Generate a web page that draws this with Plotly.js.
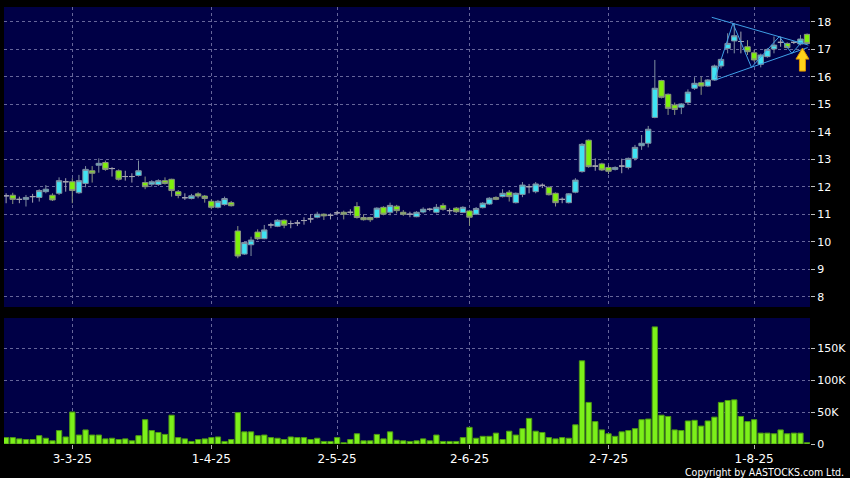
<!DOCTYPE html>
<html><head><meta charset="utf-8">
<script src="https://cdn.plot.ly/plotly-3.0.1.min.js"></script>
<style>html,body{margin:0;padding:0;background:#000;}#chart{width:850px;height:478px;}</style>
</head><body><div id="chart"></div>
<script>
// ---- tick labels (trading-day index -> date label)
const tickIdx  = [10, 31, 50, 70, 91, 113];
const tickText = ['3-3-25', '1-4-25', '2-5-25', '2-6-25', '2-7-25', '1-8-25'];

// ---- daily OHLC (one entry per trading day)
const openP = [11.68,11.70,11.55,11.55,11.65,11.62,11.83,11.70,11.77,12.19,
 12.19,11.79,12.13,12.59,12.79,12.89,12.67,12.59,12.38,12.38,
 12.42,12.16,12.10,12.09,12.23,12.28,11.83,11.61,11.58,11.75,
 11.67,11.48,11.26,11.36,11.43,10.40,9.56,9.90,10.36,10.12,
 10.62,10.57,10.79,10.67,10.69,10.78,10.84,10.90,11.01,10.97,
 11.06,11.08,11.08,11.29,10.89,10.89,10.89,11.26,11.08,11.30,
 11.08,11.01,10.92,11.09,11.19,11.08,11.33,11.14,11.23,11.07,
 11.13,11.01,11.25,11.38,11.62,11.65,11.81,11.43,11.73,12.01,
 11.83,12.06,11.99,11.77,11.55,11.43,11.81,12.56,13.70,12.76,
 12.84,12.71,12.64,12.76,12.71,13.04,13.50,13.59,14.53,15.87,
 15.37,14.98,14.90,15.07,15.59,15.79,15.67,15.89,16.40,17.04,
 17.31,17.29,17.10,16.88,16.46,16.74,17.02,17.26,17.22,17.26,
 17.20,17.55];
const highP = [11.77,11.79,11.65,11.71,11.75,11.92,12.07,11.77,12.35,12.32,
 12.32,12.44,12.76,12.76,13.04,12.96,12.72,12.64,12.59,12.50,
 12.96,12.38,12.25,12.28,12.35,12.30,11.89,11.77,11.75,11.81,
 11.71,11.55,11.53,11.65,11.49,10.58,10.01,10.19,10.46,10.62,
 10.70,10.83,10.82,10.78,10.80,10.90,11.01,11.10,11.04,11.04,
 11.14,11.14,11.19,11.45,11.01,10.92,11.26,11.30,11.43,11.35,
 11.16,11.10,11.12,11.26,11.24,11.38,11.41,11.22,11.27,11.30,
 11.17,11.27,11.45,11.63,11.66,11.92,11.89,11.80,12.18,12.11,
 12.18,12.13,12.02,11.80,11.62,11.78,12.32,13.60,13.73,13.04,
 12.88,12.80,12.75,13.03,13.07,13.53,13.89,14.22,16.62,15.90,
 15.40,15.07,15.05,15.55,15.99,16.01,15.92,16.45,16.67,17.59,
 17.95,17.65,17.34,16.98,16.85,17.05,17.47,17.47,17.26,17.30,
 17.53,17.58];
const lowP = [11.41,11.38,11.41,11.29,11.43,11.47,11.77,11.49,11.71,11.83,
 11.41,11.75,11.99,12.16,12.52,12.59,12.38,12.23,12.23,12.16,
 12.38,11.92,12.01,12.04,12.09,11.65,11.59,11.53,11.55,11.59,
 11.43,11.19,11.22,11.32,11.29,9.41,9.53,9.49,10.07,10.10,
 10.50,10.54,10.50,10.50,10.58,10.63,10.70,10.86,10.80,10.82,
 10.97,10.82,10.97,10.85,10.78,10.73,10.86,10.97,10.97,11.04,
 10.95,10.90,10.90,11.04,11.12,11.04,11.14,11.02,11.05,11.05,
 10.59,10.98,11.22,11.35,11.52,11.62,11.47,11.40,11.63,11.77,
 11.77,11.96,11.69,11.29,11.41,11.40,11.77,12.52,12.70,12.59,
 12.58,12.47,12.60,12.50,12.64,12.96,13.35,13.44,14.50,15.22,
 14.62,14.62,14.65,14.98,15.53,15.35,15.64,15.86,16.31,16.86,
 16.86,16.86,16.80,16.56,16.35,16.70,16.86,17.10,17.04,17.20,
 17.15,17.22];
const closeP = [11.68,11.55,11.55,11.62,11.65,11.87,11.92,11.53,12.23,12.19,
 11.87,12.23,12.64,12.50,12.86,12.64,12.67,12.28,12.38,12.38,
 12.59,12.01,12.19,12.23,12.13,11.87,11.69,11.61,11.68,11.67,
 11.58,11.26,11.48,11.58,11.32,9.49,9.98,10.07,10.12,10.44,
 10.62,10.79,10.61,10.67,10.69,10.78,10.84,11.01,10.95,10.97,
 11.06,11.01,11.08,10.89,10.81,10.81,11.23,11.01,11.33,11.14,
 11.01,11.01,11.08,11.19,11.19,11.26,11.19,11.14,11.10,11.26,
 10.90,11.22,11.41,11.59,11.55,11.77,11.65,11.77,12.07,12.01,
 12.11,12.06,11.72,11.43,11.55,11.75,12.25,13.55,12.74,12.76,
 12.62,12.57,12.71,12.76,13.04,13.44,13.59,14.10,15.59,15.26,
 14.86,14.82,15.02,15.45,15.77,15.67,15.89,16.40,16.64,17.22,
 17.50,17.29,16.92,16.62,16.80,17.00,17.16,17.26,17.07,17.26,
 17.38,17.22];

// ---- daily volume (thousand shares)
const volumeK = [10,10,8,7,7,13,9,5,21,11,
 50,14,22,14,14,8,9,7,8,5,
 13,38,21,18,15,45,10,8,4,7,
 8,10,11,4,7,49,19,19,13,14,
 10,9,7,11,10,10,7,9,4,4,
 10,2,7,16,5,5,15,8,19,6,
 5,4,5,8,5,14,4,4,4,10,
 26,9,12,12,17,7,20,14,24,40,
 20,18,10,8,10,9,30,130,65,35,
 22,16,12,19,21,24,38,39,183,45,
 43,22,21,36,37,28,36,42,65,68,
 69,43,35,38,17,17,16,22,16,17,
 17,2];

// ---- symmetric-triangle drawing (day index, price)
const triUpperX = [106.6, 121.2], triUpperY = [18.17, 17.16];
const triLowerX = [107.1, 121.1], triLowerY = [15.89, 17.07];
const zigX = [107.1, 109.8, 112.6, 116.8, 118.7, 120.2];
const zigY = [15.96, 17.95, 16.35, 17.47, 16.86, 17.27];

const dayIdx = openP.map((_, i) => i);
const volume = volumeK.map(v => v * 1000);

function pick(filter) {
  const ids = dayIdx.filter(filter);
  return {
    x: ids, open: ids.map(i => openP[i]), high: ids.map(i => highP[i]),
    low: ids.map(i => lowP[i]), close: ids.map(i => closeP[i])
  };
}
const up = pick(i => closeP[i] > openP[i]);
const dn = pick(i => closeP[i] < openP[i]);
const dj = pick(i => closeP[i] === openP[i]);

function candle(d, fill, line) {
  return Object.assign({
    type: 'candlestick', xaxis: 'x', yaxis: 'y', whiskerwidth: 0, hoverinfo: 'skip',
    increasing: {fillcolor: fill, line: {color: line, width: 1}},
    decreasing: {fillcolor: fill, line: {color: line, width: 1}}
  }, d);
}

const TRI = '#3f9fe6';
const traces = [
  candle(up, '#3fe3f3', '#7f8fa0'),
  candle(dn, '#7ef00a', '#8a9480'),
  candle(dj, '#9a9aa6', '#a4a4b0'),
  {type: 'scatter', mode: 'lines', x: triUpperX, y: triUpperY, line: {color: TRI, width: 1}, hoverinfo: 'skip'},
  {type: 'scatter', mode: 'lines', x: triLowerX, y: triLowerY, line: {color: TRI, width: 1}, hoverinfo: 'skip'},
  {type: 'scatter', mode: 'lines', x: zigX, y: zigY, line: {color: TRI, width: 1}, hoverinfo: 'skip'},
  {type: 'bar', x: dayIdx, y: volume, xaxis: 'x', yaxis: 'y2',
   marker: {color: '#7cf01a', line: {color: '#4e9a12', width: 1}}, hoverinfo: 'skip'}
];

const GRID = '#66669a';
const layout = {
  width: 850, height: 478,
  paper_bgcolor: '#000000', plot_bgcolor: '#000046',
  margin: {l: 4, r: 40, t: 7, b: 34},
  showlegend: false,
  boxgap: 0.18, boxgroupgap: 0, bargap: 0.2,
  font: {family: 'DejaVu Sans, sans-serif', color: '#ffffff', size: 12},
  xaxis: {
    anchor: 'y2', range: [-0.32, 121.44], tickmode: 'array', tickvals: tickIdx, ticktext: tickText,
    ticks: 'outside', ticklen: 4, tickcolor: '#b0b0b0', tickfont: {size: 12, color: '#ffffff'},
    showgrid: true, gridcolor: GRID, griddash: '3px,3px', gridwidth: 1,
    zeroline: false, showline: false, rangeslider: {visible: false}, fixedrange: true
  },
  yaxis: {
    domain: [0.3135, 1], side: 'right', range: [7.636, 18.545], tickmode: 'linear', tick0: 0, dtick: 1,
    ticks: 'outside', ticklen: 4, tickcolor: '#c0c0c0', tickfont: {size: 11, color: '#ffffff'},
    showgrid: true, gridcolor: GRID, griddash: '3px,3px', zeroline: false, showline: false, fixedrange: true
  },
  yaxis2: {
    domain: [0, 0.2883], side: 'right', range: [0, 196900], tickmode: 'array',
    tickvals: [0, 50000, 100000, 150000], ticktext: ['0', '50K', '100K', '150K'],
    ticks: 'outside', ticklen: 4, tickcolor: '#c0c0c0', tickfont: {size: 11, color: '#ffffff'},
    showgrid: true, gridcolor: GRID, griddash: '3px,3px', zeroline: false, showline: false, fixedrange: true
  },
  shapes: [{
    type: 'path', xref: 'x', yref: 'y', xsizemode: 'pixel', ysizemode: 'pixel',
    xanchor: 120.3, yanchor: 17.05,
    path: 'M0,0 L6.5,-11 L3,-11 L3,-23 L-3,-23 L-3,-11 L-6.5,-11 Z',
    fillcolor: '#ffd21a', line: {color: '#d88f00', width: 1}, layer: 'above'
  }],
  annotations: [{
    text: 'Copyright by AASTOCKS.com Ltd.', xref: 'paper', yref: 'paper',
    x: 1.0447, y: -0.064, xanchor: 'right', yanchor: 'middle', showarrow: false,
    font: {family: 'DejaVu Sans Condensed, DejaVu Sans, sans-serif', size: 10.5, color: '#ffffff'}
  }]
};

Plotly.newPlot('chart', traces, layout, {displayModeBar: false, staticPlot: true});
</script></body></html>
